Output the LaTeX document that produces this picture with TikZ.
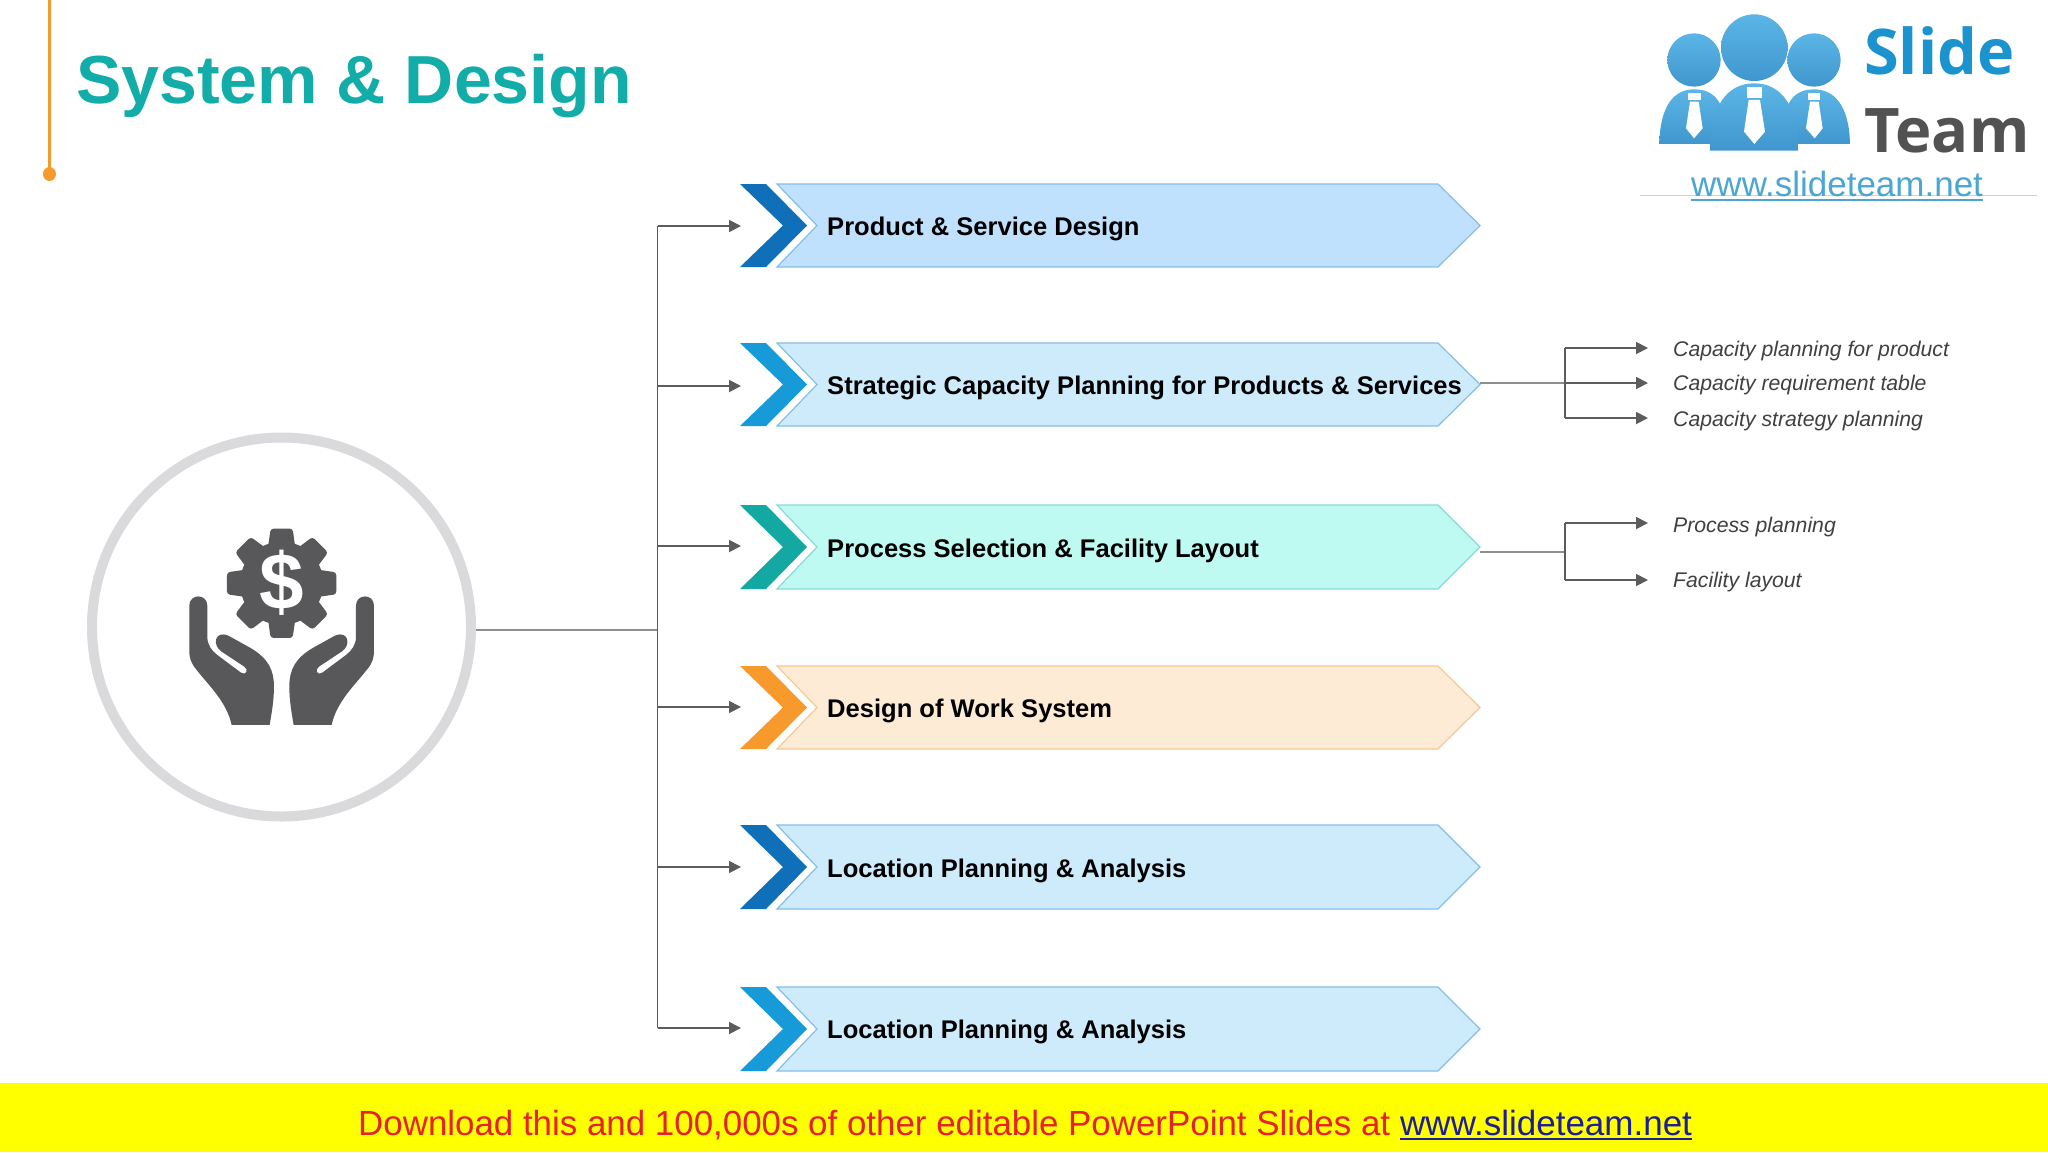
\documentclass[tikz,border=0pt]{standalone}
\usepackage{fontspec}
\setmainfont{Liberation Sans}
\newfontfamily\logofont{Open Sans}
\usetikzlibrary{arrows.meta,calc}
\definecolor{linegray}{HTML}{5C5B5E}
\definecolor{stemgray}{HTML}{8E8E90}
\definecolor{icongray}{HTML}{58575A}
\definecolor{ringgray}{HTML}{DAD9DC}
\definecolor{titleteal}{HTML}{12ADA8}
\definecolor{accentorange}{HTML}{F79A2D}
\definecolor{chevdark}{HTML}{0F6FB8}
\definecolor{chevblue}{HTML}{169BD8}
\definecolor{chevteal}{HTML}{14A8A2}
\definecolor{chevorange}{HTML}{F79A2B}
\definecolor{banA}{HTML}{BFE1FD}
\definecolor{banB}{HTML}{CDEBFB}
\definecolor{banC}{HTML}{BFFAF2}
\definecolor{banD}{HTML}{FDEBD6}
\definecolor{edgeA}{HTML}{86BEE6}
\definecolor{edgeC}{HTML}{86DAD6}
\definecolor{edgeD}{HTML}{F5C896}
\definecolor{logotext}{HTML}{1A93CE}
\definecolor{logohi}{HTML}{5CB5E6}
\definecolor{logolo}{HTML}{3F97CE}
\definecolor{logourl}{HTML}{4BA6D3}
\definecolor{barred}{HTML}{E6212B}
\definecolor{barblue}{HTML}{1C1C9C}
\definecolor{baryellow}{HTML}{FFFF00}
\tikzset{
  bannertext/.style={anchor=base west,inner sep=0pt,font=\fontsize{25.55}{25.55}\selectfont\bfseries,text=black},
  sublabel/.style={anchor=base west,inner sep=0pt,font=\fontsize{21.2}{21.2}\selectfont\itshape,text=black!75},
  conn/.style={draw=linegray,line width=1.8pt},
  arrowconn/.style={conn,-{Triangle[length=12pt,width=12pt]}},
  stem/.style={draw=stemgray,line width=1.6pt},
  logobody/.style={top color=logohi,bottom color=logolo},
}
% #1 name, #2 top y, #3 bottom y, #4 chevron colour, #5 fill, #6 edge, #7 text, #8 baseline y
\newcommand{\bannerrow}[8]{
  \pgfmathsetmacro{\midy}{(#2+#3)/2}
  \fill[#4] (740,#2) -- (766,#2) -- (807,\midy) -- (766,#3) -- (740,#3) -- (783,\midy) -- cycle;
  \draw[fill=#5,draw=#6,line width=1.2pt] (777,#2) -- (1438,#2) -- (1480,\midy) -- (1438,#3) -- (777,#3) -- (817,\midy) -- cycle;
  \coordinate (#1tip) at (1480,\midy);
  \node[bannertext] (#1) at (827,#8) {#7};
}
\begin{document}
\begin{tikzpicture}[x=1pt,y=-1pt]
\useasboundingbox (0,0) rectangle (2048,1152);
\fill[white] (0,0) rectangle (2048,1152);
% accent and title
\draw[accentorange,line width=2.8pt] (49.5,0) -- (49.5,174);
\fill[accentorange] (49.5,174) ellipse (6.5 and 7);
\node[anchor=base west,inner sep=0pt,text=titleteal,font=\fontsize{68}{68}\selectfont\bfseries] (title) at (76,103) {System \& Design};
% hub
\node[circle,draw=ringgray,line width=10pt,minimum size=379pt,inner sep=0pt] (hub) at (281.5,627) {};
\begin{scope}[shift={(80,420)},x=0.3333pt,y=-0.3333pt]
  \begin{scope}[shift={(605,490)}]
    \fill[icongray] (0,0) circle (125);
    \foreach \a in {0,45,...,315}
      \fill[icongray,rotate=\a,rounded corners=3pt] (-42,100) -- (-33,164) -- (33,164) -- (42,100) -- cycle;
  \end{scope}
  \foreach \m in {0,1}{
    \begin{scope}[shift={(605,0)},xscale={1-2*\m},shift={(-605,0)}]
      \fill[icongray] (455,915) .. controls (440,845) and (385,795) .. (350,750)
        .. controls (332,728) and (328,715) .. (328,690) -- (328,557)
        .. controls (328,520) and (382,520) .. (382,557) -- (382,650)
        .. controls (382,675) and (395,692) .. (412,705) -- (483,758)
        .. controls (497,768) and (508,750) .. (493,740) -- (425,695)
        .. controls (395,675) and (405,630) .. (445,647)
        -- (510,683) .. controls (565,715) and (582,750) .. (582,800)
        .. controls (582,840) and (575,880) .. (569,915) -- cycle;
    \end{scope}
  }
\end{scope}
\node[text=white,inner sep=0pt,font=\fontsize{80}{80}\selectfont\bfseries] (dollar) at (281.5,583) {\$};
% banners
\bannerrow{rowa}{184}{267}{chevdark}{banA}{edgeA}{Product \& Service Design}{235}
\bannerrow{rowb}{343}{426}{chevblue}{banB}{edgeA}{Strategic Capacity Planning for Products \& Services}{394}
\bannerrow{rowc}{505}{589}{chevteal}{banC}{edgeC}{Process Selection \& Facility Layout}{557}
\bannerrow{rowd}{666}{749}{chevorange}{banD}{edgeD}{Design of Work System}{717}
\bannerrow{rowe}{825}{909}{chevdark}{banB}{edgeA}{Location Planning \& Analysis}{877}
\bannerrow{rowf}{987}{1071}{chevblue}{banB}{edgeA}{Location Planning \& Analysis}{1038}
% main tree
\coordinate (hubout) at (476,630);
\coordinate (trunk) at (657.5,630);
\coordinate (ta) at (657.5,226); \coordinate (ea) at (741,226);
\coordinate (tb) at (657.5,386); \coordinate (eb) at (741,386);
\coordinate (tc) at (657.5,546); \coordinate (ec) at (741,546);
\coordinate (td) at (657.5,707); \coordinate (ed) at (741,707);
\coordinate (te) at (657.5,867); \coordinate (ee) at (741,867);
\coordinate (tf) at (657.5,1028); \coordinate (ef) at (741,1028);
\draw[stem] (hubout) -- (trunk);
\draw[conn] (ta) -- (tf);
\foreach \n in {a,b,c,d,e,f} \draw[arrowconn] (t\n) -- (e\n);
% sub trees
\node[sublabel] (sba) at (1673,356) {Capacity planning for product};
\node[sublabel] (sbb) at (1673,390) {Capacity requirement table};
\node[sublabel] (sbc) at (1673,426) {Capacity strategy planning};
\node[sublabel] (sca) at (1673,532) {Process planning};
\node[sublabel] (scb) at (1673,587) {Facility layout};
\coordinate (ba) at (1565,348); \coordinate (baa) at (1648,348);
\coordinate (bb) at (1565,383); \coordinate (bba) at (1648,383);
\coordinate (bc) at (1565,418); \coordinate (bca) at (1648,418);
\draw[stem] (rowbtip |- bb) -- (bb);
\draw[conn] (ba) -- (bc);
\draw[arrowconn] (ba) -- (baa);
\draw[arrowconn] (bb) -- (bba);
\draw[arrowconn] (bc) -- (bca);
\coordinate (ca) at (1565,523); \coordinate (caa) at (1648,523);
\coordinate (cm) at (1565,552);
\coordinate (cb) at (1565,580); \coordinate (cba) at (1648,580);
\draw[stem] (rowctip |- cm) -- (cm);
\draw[conn] (ca) -- (cb);
\draw[arrowconn] (ca) -- (caa);
\draw[arrowconn] (cb) -- (cba);
% logo
\begin{scope}[shift={(1620,0)},x=0.3333pt,y=-0.3333pt]
  \path[logobody] (118,432) .. controls (120,320) and (160,268) .. (222,268) .. controls (300,268) and (320,330) .. (320,432) -- cycle;
  \path[logobody] (690,432) .. controls (688,320) and (645,268) .. (582,268) .. controls (506,268) and (486,330) .. (486,432) -- cycle;
  \path[logobody] (222,180) circle (80);
  \path[logobody] (582,180) circle (80);
  \path[logobody] (403,143) circle (100);
  \path[logobody] (270,452) .. controls (270,320) and (320,250) .. (403,250) .. controls (485,250) and (535,320) .. (535,452) -- cycle;
  \fill[white] (205,280) -- (242,280) -- (242,300) -- (205,300) -- cycle;
  \fill[white] (210,305) -- (236,305) -- (248,385) -- (222,415) -- (198,385) -- cycle;
  \fill[white] (564,280) -- (601,280) -- (601,300) -- (564,300) -- cycle;
  \fill[white] (570,305) -- (596,305) -- (608,385) -- (584,415) -- (558,385) -- cycle;
  \fill[white] (381,262) -- (425,262) -- (425,295) -- (381,295) -- cycle;
  \fill[white] (386,300) -- (420,300) -- (435,395) -- (403,432) -- (372,395) -- cycle;
\end{scope}
\node[anchor=base west,inner sep=0pt,text=logotext,font=\logofont\fontsize{63}{63}\selectfont\bfseries] (slide) at (1864,74) {Slide};
\node[anchor=base west,inner sep=0pt,text=black!68,font=\logofont\fontsize{61.5}{61.5}\selectfont\bfseries] (team) at (1864,152) {Team};
\draw[black!18,line width=1pt] (1640,195) -- (2037,195);
\node[anchor=base west,inner sep=0pt,text=logourl,font=\fontsize{35}{35}\selectfont] (url) at (1691,196) {www.slideteam.net};
\draw[logourl,line width=2pt] (url.base west |- 0,200) -- (url.base east |- 0,200);
% footer
\fill[baryellow] (0,1083) rectangle (2048,1152);
\node[anchor=base west,inner sep=0pt,font=\fontsize{34.9}{34.9}\selectfont,text=barred] (download) at (358,1135) {Download this and 100,000s of other editable PowerPoint Slides at};
\node[anchor=base west,inner sep=0pt,font=\fontsize{35}{35}\selectfont,text=barblue] (link) at (1400,1135) {www.slideteam.net};
\draw[barblue,line width=2pt] ($(link.base west)+(0,4)$) -- ($(link.base east)+(0,4)$);
\end{tikzpicture}
\end{document}
